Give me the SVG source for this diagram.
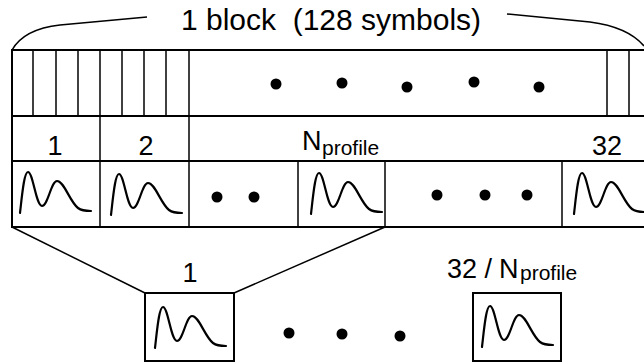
<svg xmlns="http://www.w3.org/2000/svg" xmlns:xlink="http://www.w3.org/1999/xlink" width="644" height="364" viewBox="0 0 644 364">
  <style>
    .frame { fill: none; stroke: #000; stroke-width: 2; stroke-linecap: square; }
    .thin { fill: none; stroke: #000; stroke-width: 1.5; }
    .wave { fill: none; stroke: #000; stroke-width: 2.2; stroke-linecap: round; stroke-linejoin: round; }
    .dot { fill: #000; }
    .lbl { font-family: "Liberation Sans", Arial, sans-serif; fill: #000; }
    .big { font-size: 30px; }
    .mid { font-size: 27px; }
    .sub { font-size: 21px; }
  </style>
  <defs>
    <!-- double-humped power profile, drawn in cell-local coordinates -->
    <path id="profile" class="wave" d="M8,52 C10,35 12,11 16,11 C21,11 24,45 30,45 C36,45 39,20 45,20 C52,20 58,41 66,47 C70,50 74,50 79,50"/>
  </defs>

  <!-- block brace and title -->
  <g id="block-title">
    <path class="thin" d="M12,50 Q24,29 60,25 L147,17"/>
    <path class="thin" d="M507,14 L590,22 Q628,27 644,46"/>
    <text class="lbl big" x="331" y="30" text-anchor="middle">1 block&#160; (128 symbols)</text>
  </g>

  <!-- symbol row -->
  <g id="symbol-row">
    <line class="frame" x1="12" y1="50" x2="644" y2="50"/>
    <line class="frame" x1="12" y1="116" x2="644" y2="116"/>
    <line class="frame" x1="12" y1="50" x2="12" y2="227"/>
    <line class="thin" x1="33" y1="50" x2="33" y2="116"/>
    <line class="thin" x1="56" y1="50" x2="56" y2="116"/>
    <line class="thin" x1="78" y1="50" x2="78" y2="116"/>
    <line class="thin" x1="100" y1="50" x2="100" y2="116"/>
    <line class="thin" x1="122" y1="50" x2="122" y2="116"/>
    <line class="thin" x1="144" y1="50" x2="144" y2="116"/>
    <line class="thin" x1="166" y1="50" x2="166" y2="116"/>
    <line class="thin" x1="189" y1="50" x2="189" y2="116"/>
    <line class="thin" x1="607" y1="50" x2="607" y2="116"/>
    <line class="thin" x1="629" y1="50" x2="629" y2="116"/>
    <circle class="dot" cx="276" cy="84" r="5.5"/>
    <circle class="dot" cx="342" cy="83" r="5.5"/>
    <circle class="dot" cx="407" cy="87" r="5.5"/>
    <circle class="dot" cx="474" cy="82" r="5.5"/>
    <circle class="dot" cx="539" cy="87" r="5.5"/>
  </g>

  <!-- profile index row -->
  <g id="index-row">
    <line class="frame" x1="12" y1="161" x2="644" y2="161"/>
    <line class="thin" x1="100" y1="116" x2="100" y2="161"/>
    <line class="thin" x1="189" y1="116" x2="189" y2="161"/>
    <text class="lbl mid" x="55" y="155" text-anchor="middle">1</text>
    <text class="lbl mid" x="146" y="155" text-anchor="middle">2</text>
    <text class="lbl mid" x="302" y="150">N</text>
    <text class="lbl sub" x="322" y="155">profile</text>
    <text class="lbl mid" x="607" y="155" text-anchor="middle">32</text>
  </g>

  <!-- profile row -->
  <g id="profile-row">
    <line class="frame" x1="12" y1="227" x2="644" y2="227"/>
    <line class="thin" x1="100" y1="161" x2="100" y2="227"/>
    <line class="thin" x1="189" y1="161" x2="189" y2="227"/>
    <line class="thin" x1="298" y1="161" x2="298" y2="227"/>
    <line class="thin" x1="385" y1="161" x2="385" y2="227"/>
    <line class="thin" x1="562" y1="161" x2="562" y2="227"/>
    <use xlink:href="#profile" transform="translate(12,161)"/>
    <use xlink:href="#profile" transform="translate(103,163)"/>
    <use xlink:href="#profile" transform="translate(303,162)"/>
    <use xlink:href="#profile" transform="translate(566,162)"/>
    <circle class="dot" cx="217" cy="197" r="5.5"/>
    <circle class="dot" cx="254" cy="197" r="5.5"/>
    <circle class="dot" cx="437" cy="195" r="5.5"/>
    <circle class="dot" cx="485" cy="195" r="5.5"/>
    <circle class="dot" cx="527" cy="195" r="5.5"/>
  </g>

  <!-- expansion lines -->
  <g id="connectors">
    <line class="thin" x1="12" y1="227" x2="145" y2="293"/>
    <line class="thin" x1="385" y1="227" x2="234" y2="293"/>
  </g>

  <!-- first transmitted profile -->
  <g id="profile-first">
    <rect class="frame" x="145" y="293" width="89" height="68"/>
    <use xlink:href="#profile" transform="translate(147,296)"/>
    <text class="lbl mid" x="190" y="282" text-anchor="middle">1</text>
  </g>

  <g id="profile-dots">
    <circle class="dot" cx="289" cy="333" r="5.5"/>
    <circle class="dot" cx="342" cy="334" r="5.5"/>
    <circle class="dot" cx="400" cy="336" r="5.5"/>
  </g>

  <!-- last transmitted profile -->
  <g id="profile-last">
    <rect class="frame" x="473" y="293" width="88" height="68"/>
    <use xlink:href="#profile" transform="translate(474,295)"/>
    <text class="lbl mid" x="447" y="278">32 /</text>
    <text class="lbl mid" x="499" y="278">N</text>
    <text class="lbl sub" x="520" y="280">profile</text>
  </g>
</svg>
